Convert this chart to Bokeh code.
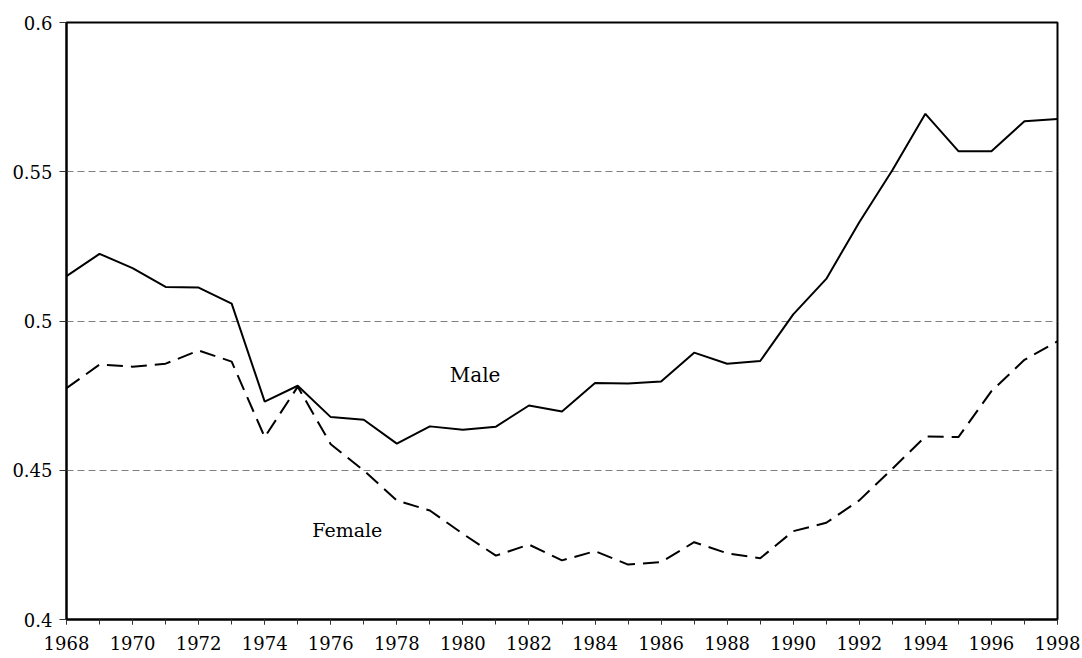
from bokeh.plotting import figure
from bokeh.models import FixedTicker, CustomJSTickFormatter, Range1d, Label, ColumnDataSource
from bokeh.embed import file_html
from bokeh.resources import INLINE

years = list(range(1968, 1999))
male = [0.5150, 0.5225, 0.5177, 0.5114, 0.5112, 0.5058, 0.4730, 0.4783,
        0.4678, 0.4669, 0.4589, 0.4647, 0.4636, 0.4646, 0.4717, 0.4697,
        0.4792, 0.4791, 0.4797, 0.4894, 0.4857, 0.4866, 0.5022, 0.5141,
        0.5331, 0.5505, 0.5694, 0.5569, 0.5569, 0.5669, 0.5677]
female = [0.4775, 0.4854, 0.4847, 0.4857, 0.4901, 0.4864, 0.4611, 0.4780,
          0.4587, 0.4499, 0.4399, 0.4365, 0.4287, 0.4214, 0.4251, 0.4198,
          0.4229, 0.4184, 0.4192, 0.4259, 0.4222, 0.4205, 0.4296, 0.4324,
          0.4399, 0.4505, 0.4613, 0.4611, 0.4765, 0.4870, 0.4932]
x_tick_labels = list(range(1968, 1999, 2))
y_ticks = [0.4, 0.45, 0.5, 0.55, 0.6]

FONT = "DejaVu Serif"

p = figure(frame_width=991, frame_height=597, output_backend="svg",
           toolbar_location=None, x_range=Range1d(1968, 1998),
           y_range=Range1d(0.4, 0.6),
           min_border_left=66, min_border_top=22, min_border_right=24,
           min_border_bottom=38)
p.background_fill_color = "white"
p.border_fill_color = "white"
p.outline_line_color = "black"
p.outline_line_width = 2

src = ColumnDataSource(dict(year=years, male=male, female=female))
p.line("year", "male", source=src, line_color="black", line_width=2)
p.line("year", "female", source=src, line_color="black", line_width=2,
       line_dash="16 8")

p.xgrid.visible = False
p.ygrid.ticker = FixedTicker(ticks=y_ticks)
p.ygrid.grid_line_color = "#808080"
p.ygrid.grid_line_width = 1
p.ygrid.grid_line_dash = "7 4"

xa = p.xaxis[0]
xa.ticker = FixedTicker(ticks=x_tick_labels, minor_ticks=years)
xa.axis_line_color = "black"
xa.axis_line_width = 2
xa.major_tick_in = 0
xa.major_tick_out = 5
xa.minor_tick_in = 0
xa.minor_tick_out = 5
xa.major_tick_line_color = "#333333"
xa.minor_tick_line_color = "#333333"
xa.major_label_text_font = FONT
xa.major_label_text_font_size = "18px"
xa.major_label_text_color = "black"
xa.major_label_standoff = 11

ya = p.yaxis[0]
ya.ticker = FixedTicker(ticks=y_ticks)
ya.formatter = CustomJSTickFormatter(code="return tick.toFixed(2).replace(/0$/, '');")
ya.axis_line_color = "black"
ya.axis_line_width = 2
ya.major_tick_in = 0
ya.major_tick_out = 7
ya.minor_tick_line_color = None
ya.major_tick_line_color = "#333333"
ya.major_label_text_font = FONT
ya.major_label_text_font_size = "18px"
ya.major_label_text_color = "black"
ya.major_label_standoff = 7

p.add_layout(Label(x=1980.37, y=0.4818, text="Male", text_font=FONT,
                   text_font_size="20px", text_align="center",
                   text_baseline="alphabetic", text_color="black"))
p.add_layout(Label(x=1976.50, y=0.4301, text="Female", text_font=FONT,
                   text_font_size="19px", text_align="center",
                   text_baseline="alphabetic", text_color="black"))

open("out.html", "w").write(file_html(p, INLINE))
